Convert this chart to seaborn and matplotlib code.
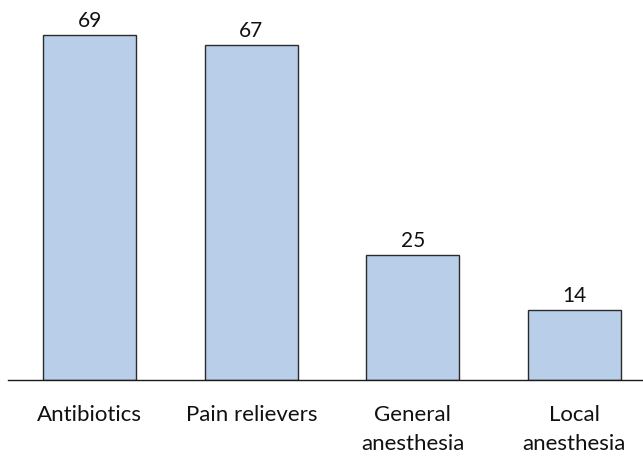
import matplotlib
matplotlib.use("Agg")
import matplotlib.pyplot as plt
import seaborn as sns
import pandas as pd

categories = ["Antibiotics", "Pain relievers", "General\nanesthesia", "Local\nanesthesia"]
values = [69, 67, 25, 14]

df = pd.DataFrame({"category": categories, "value": values})

sns.set_theme(style="white")
plt.rcParams["font.family"] = ["Lato", "DejaVu Sans"]

fig = plt.figure(figsize=(6.43, 4.58), dpi=100)
ax = fig.add_axes([8 / 643, 1 - 380 / 458, 1 - 8 / 643, 380 / 458])

sns.barplot(data=df, x="category", y="value", color="#B9CFE9", saturation=1,
            edgecolor="#2b2b2b", linewidth=1.0, width=0.576, ax=ax)

for c in ax.containers:
    ax.bar_label(c, labels=[str(v) for v in values], padding=3, fontsize=15, color="#111111")

ax.set_xlim(-0.5065, 3.426)
ax.set_ylim(0, 76)
ax.set_xlabel("")
ax.set_ylabel("")
ax.set_yticks([])
for s in ["top", "right", "left"]:
    ax.spines[s].set_visible(False)
ax.spines["bottom"].set_color("#1a1a1a")
ax.spines["bottom"].set_linewidth(1.0)
ax.tick_params(axis="x", length=0, pad=18, labelsize=16, colors="#111111")
for t in ax.get_xticklabels():
    t.set_linespacing(1.55)
    t.set_verticalalignment("top")

fig.savefig("out.png", dpi=100)
